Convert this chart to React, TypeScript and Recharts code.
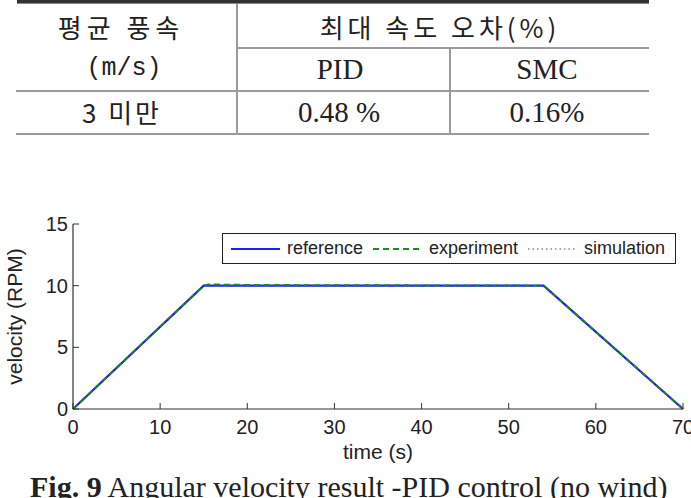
import React from 'react';
import { LineChart, Line, XAxis, YAxis, Legend, Label } from 'recharts';

// velocity profiles: time in s, angular velocity in RPM
const referenceTime = [0, 15, 54, 70];
const referenceVelocity = [0, 10, 10, 0];
const experimentTime = [0, 15, 15.5, 21, 54, 70];
const experimentVelocity = [0, 10, 10.1, 10.05, 10, 0];
const simulationTime = [0, 15, 54, 70];
const simulationVelocity = [0, 10, 10, 0];

const timeTicks = [0, 10, 20, 30, 40, 50, 60, 70];
const velocityTicks = [0, 5, 10, 15];

// summary table above the plot
const windHeader = ['평균 풍속', '(m/s)'];
const errorHeader = '최대 속도 오차(%)';
const controllers = ['PID', 'SMC'];
const windRange = '3 미만';
const maxErrors = ['0.48 %', '0.16%'];

const toPoints = (t: number[], v: number[]) => t.map((x, i) => ({ t: x, v: v[i] }));

const SERIES = [
  { name: 'reference', data: toPoints(referenceTime, referenceVelocity), stroke: '#1c1cf5', width: 2.2, dash: undefined as string | undefined },
  { name: 'experiment', data: toPoints(experimentTime, experimentVelocity), stroke: '#1a8a22', width: 2, dash: '6 4' },
  { name: 'simulation', data: toPoints(simulationTime, simulationVelocity), stroke: '#4a4a66', width: 1.2, dash: '1.5 3' },
];

const INK = '#222';
const RULE = '#9a9a9a';
const KR = '"Noto Sans CJK KR", sans-serif';
const SERIF = '"Liberation Serif", "Times New Roman", serif';

const Cell: React.FC<{ cx: number; cy: number; font: string; size: number; spacing?: number; children: React.ReactNode }> = ({
  cx, cy, font, size, spacing = 0, children,
}) => (
  <div
    style={{
      position: 'absolute',
      left: cx - 150,
      width: 300,
      top: cy - 20,
      height: 40,
      lineHeight: '40px',
      textAlign: 'center',
      fontFamily: font,
      fontSize: size,
      letterSpacing: spacing,
      color: INK,
      whiteSpace: 'nowrap',
    }}
  >
    {children}
  </div>
);

const hRule = (left: number, right: number, top: number, h = 1.5, color = RULE) => (
  <div style={{ position: 'absolute', left, top, width: right - left, height: h, background: color }} />
);
const vRule = (x: number, top: number, bottom: number) => (
  <div style={{ position: 'absolute', left: x, top, width: 1.5, height: bottom - top, background: RULE }} />
);

const renderLegend = () => (
  <div
    style={{
      boxSizing: 'border-box',
      width: 454,
      height: 31,
      border: '1.5px solid #222',
      background: '#fff',
      display: 'flex',
      alignItems: 'center',
      paddingLeft: 8,
      fontSize: 18,
      color: INK,
    }}
  >
    {SERIES.map((s) => (
      <div key={s.name} style={{ display: 'flex', alignItems: 'center', marginRight: 10 }}>
        <svg width={49} height={10}>
          <line x1={0} y1={5} x2={49} y2={5} stroke={s.stroke} strokeWidth={s.width} strokeDasharray={s.dash} />
        </svg>
        <span style={{ marginLeft: 7 }}>{s.name}</span>
      </div>
    ))}
  </div>
);

const App: React.FC = () => {
  const tickStyle = { fill: INK, fontSize: 20 };
  return (
    <div style={{ position: 'absolute', left: 0, top: 0, width: 691, height: 498, overflow: 'hidden', background: '#fff' }}>
      {/* table */}
      {hRule(17, 649, 0, 3, '#333')}
      {hRule(17, 649, 3, 1.2, '#888')}
      {vRule(236, 4, 134)}
      {hRule(236, 649, 47)}
      {vRule(449, 47, 134)}
      {hRule(16, 649, 90)}
      {hRule(16, 649, 133)}

      <Cell cx={121} cy={27} font={KR} size={26} spacing={5}>{windHeader[0]}</Cell>
      <Cell cx={124} cy={69} font='"Liberation Mono", monospace' size={25}>{windHeader[1]}</Cell>
      <Cell cx={440} cy={27} font={KR} size={26} spacing={4}>{errorHeader}</Cell>
      <Cell cx={340} cy={69} font={SERIF} size={29}>{controllers[0]}</Cell>
      <Cell cx={547} cy={69} font={SERIF} size={29}>{controllers[1]}</Cell>
      <Cell cx={122} cy={112} font={KR} size={26} spacing={3}>{windRange}</Cell>
      <Cell cx={339} cy={112} font={SERIF} size={29}>{maxErrors[0]}</Cell>
      <Cell cx={547} cy={112} font={SERIF} size={29}>{maxErrors[1]}</Cell>

      {/* velocity plot */}
      <div style={{ position: 'absolute', left: 0, top: 200, fontFamily: '"Liberation Sans", Arial, sans-serif' }}>
        <LineChart width={691} height={272} margin={{ top: 24, right: 8, left: 0, bottom: 12 }}>
          <XAxis
            dataKey="t"
            type="number"
            domain={[0, 70]}
            ticks={timeTicks}
            interval={0}
            height={51}
            tickSize={-6}
            tickMargin={17}
            axisLine={{ stroke: '#333', strokeWidth: 1.2 }}
            tickLine={{ stroke: '#333' }}
            tick={tickStyle}
          >
            <Label value="time (s)" position="insideBottom" offset={1} style={{ fontSize: 21, fill: INK }} />
          </XAxis>
          <XAxis
            xAxisId="top"
            orientation="top"
            type="number"
            domain={[0, 70]}
            ticks={timeTicks}
            interval={0}
            height={0}
            tickSize={-6}
            tickFormatter={() => ''}
            axisLine={{ stroke: '#333', strokeWidth: 1.2 }}
            tickLine={{ stroke: '#333' }}
          />
          <YAxis
            type="number"
            domain={[0, 15]}
            ticks={velocityTicks}
            interval={0}
            width={73}
            tickSize={-6}
            tickMargin={11}
            axisLine={{ stroke: '#333', strokeWidth: 1.2 }}
            tickLine={{ stroke: '#333' }}
            tick={tickStyle}
          >
            <Label
              value="velocity (RPM)"
              angle={-90}
              position="insideLeft"
              offset={15}
              style={{ textAnchor: 'middle', fontSize: 21, fill: INK }}
            />
          </YAxis>
          <YAxis
            yAxisId="right"
            orientation="right"
            type="number"
            domain={[0, 15]}
            ticks={velocityTicks}
            interval={0}
            width={0}
            tickSize={-6}
            tickFormatter={() => ''}
            axisLine={{ stroke: '#333', strokeWidth: 1.2 }}
            tickLine={{ stroke: '#333' }}
          />
          <Legend
            layout="horizontal"
            verticalAlign="middle"
            align="center"
            content={renderLegend}
            wrapperStyle={{ position: 'absolute', left: 222, top: 33, width: 454, height: 31 }}
          />
          {SERIES.map((s) => (
            <Line
              key={s.name}
              name={s.name}
              data={s.data}
              dataKey="v"
              type="linear"
              stroke={s.stroke}
              strokeWidth={s.width}
              strokeDasharray={s.dash}
              dot={false}
              activeDot={false}
              isAnimationActive={false}
            />
          ))}
        </LineChart>
      </div>

      {/* caption */}
      <div
        style={{
          position: 'absolute',
          left: 30,
          top: 472,
          fontFamily: SERIF,
          fontSize: 30,
          lineHeight: '30px',
          whiteSpace: 'nowrap',
          color: INK,
        }}
      >
        <b>Fig. 9</b> Angular velocity result -PID control (no wind)
      </div>
    </div>
  );
};

export default App;
